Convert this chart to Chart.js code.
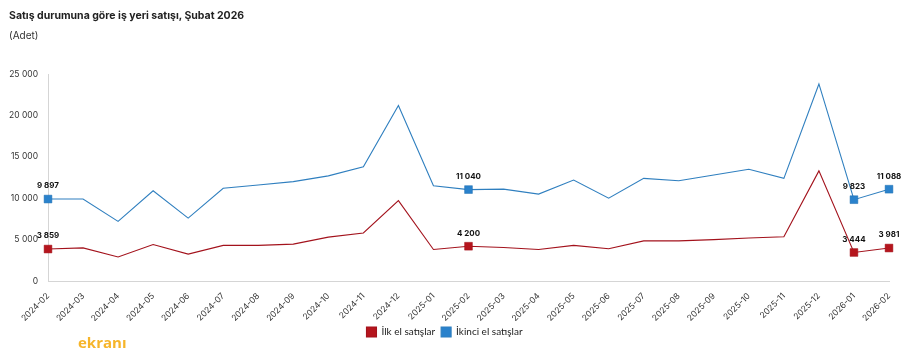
<!DOCTYPE html>
<html><head><meta charset="utf-8">
<script src="https://cdn.jsdelivr.net/npm/chart.js@4.4.0/dist/chart.umd.min.js"></script>
<style>
html,body{margin:0;padding:0;background:#fff;}
#wrap{position:relative;width:913px;height:358px;font-family:Inter,"Noto Sans",sans-serif;}
#t1{position:absolute;left:9px;top:9px;font-size:10.5px;font-weight:700;color:#222;}
#t2{position:absolute;left:9px;top:29px;font-size:10px;color:#333;}
#logo{position:absolute;left:78px;top:332px;font-size:15px;font-weight:700;color:#f6b52a;font-family:"Open Sans",sans-serif;}
canvas{position:absolute;left:0;top:0;}
</style></head><body>
<div id="wrap">
<canvas id="c" width="913" height="358"></canvas>
<div id="t1">Satış durumuna göre iş yeri satışı, Şubat 2026</div>
<div id="t2">(Adet)</div>
<div id="logo">ekranı</div>
</div>
<script>
const categories = ["2024-02","2024-03","2024-04","2024-05","2024-06","2024-07","2024-08","2024-09","2024-10","2024-11","2024-12","2025-01","2025-02","2025-03","2025-04","2025-05","2025-06","2025-07","2025-08","2025-09","2025-10","2025-11","2025-12","2026-01","2026-02"];
const ilkEl = [3859,4000,2900,4400,3250,4300,4300,4450,5300,5800,9700,3800,4200,4050,3800,4300,3900,4850,4850,5000,5200,5350,13300,3444,3981];
const ikinciEl = [9897,9900,7200,10900,7600,11200,11600,12000,12700,13800,21200,11500,11040,11100,10500,12200,10000,12400,12100,12800,13500,12400,23800,9823,11088];
const labeledIdx = [0,12,23,24];
const yTicks = [0,5000,10000,15000,20000,25000];

const fmt = v => String(Math.round(v)).replace(/\B(?=(\d{3})+(?!\d))/g, ' ');
const radii = categories.map((c,i)=> labeledIdx.includes(i) ? 5.5 : 0);

const labelPlugin = {
  id:'lbl',
  afterDatasetsDraw(chart){
    const ctx = chart.ctx;
    ctx.save();
    ctx.font = 'bold 8px Inter, "Noto Sans", sans-serif';
    ctx.fillStyle = '#111';
    ctx.textAlign = 'center';
    ctx.textBaseline = 'bottom';
    chart.data.datasets.forEach((ds,di)=>{
      const meta = chart.getDatasetMeta(di);
      labeledIdx.forEach(i=>{
        const p = meta.data[i];
        ctx.fillText(fmt(ds.data[i]), p.x, p.y - 9);
      });
    });
    ctx.restore();
  }
};

new Chart(document.getElementById('c'), {
  type:'line',
  data:{
    labels: categories,
    datasets:[
      {label:'İlk el satışlar', data: ilkEl, borderColor:'#a3121c', backgroundColor:'#b5151d', borderWidth:1.1, pointStyle:'rect', pointRadius: radii, pointHoverRadius: radii, pointBackgroundColor:'#b5151d', pointBorderColor:'#a01018', pointBorderWidth:0.5, tension:0},
      {label:'İkinci el satışlar', data: ikinciEl, borderColor:'#2f7fbf', backgroundColor:'#2a82cc', borderWidth:1.1, pointStyle:'rect', pointRadius: radii, pointHoverRadius: radii, pointBackgroundColor:'#2a82cc', pointBorderColor:'#1f6fb0', pointBorderWidth:0.5, tension:0}
    ]
  },
  options:{
    responsive:false, animation:false,
    layout:{padding:{top:74,right:24,left:0,bottom:11}},
    plugins:{
      legend:{position:'bottom', labels:{boxWidth:10, boxHeight:10, padding:6, color:'#222', font:{size:10, family:'Lato, "Noto Sans", sans-serif'}}},
      tooltip:{enabled:false}
    },
    scales:{
      x:{
        grid:{display:false},
        border:{display:true,color:'#d5d5d5'},
        ticks:{maxRotation:45,minRotation:45,autoSkip:false,color:'#333',font:{size:8.5,family:'Inter, "Noto Sans", sans-serif'},padding:2},
        afterFit(s){ s.height = 40; }
      },
      y:{
        min:0,max:25000,
        grid:{display:false},
        border:{display:true,color:'#d5d5d5'},
        afterBuildTicks(s){ s.ticks = yTicks.map(v=>({value:v})); },
        ticks:{color:'#333',font:{size:8.5,family:'Inter, "Noto Sans", sans-serif'},padding:2,callback:v=>fmt(v)},
        afterFit(s){ s.width = 48; }
      }
    }
  },
  plugins:[labelPlugin]
});
</script>
</body></html>
